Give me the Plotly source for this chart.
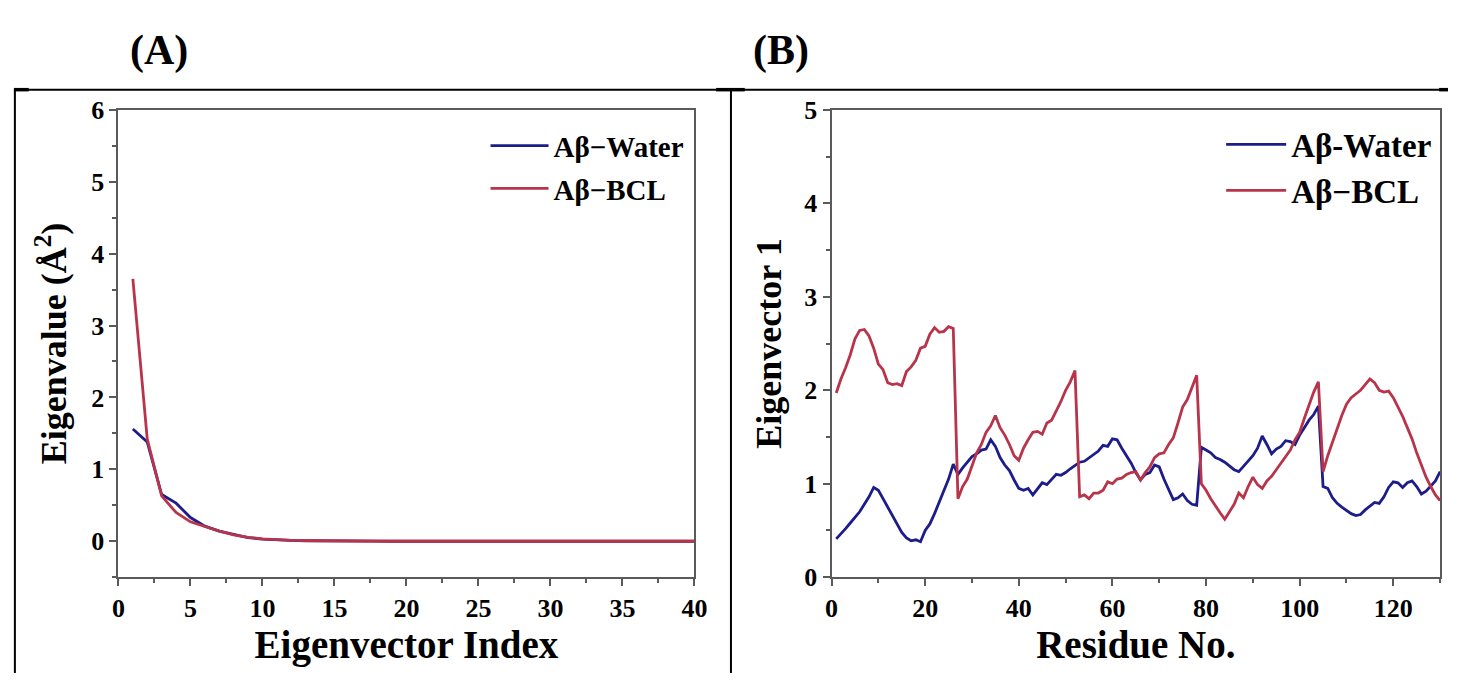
import plotly.graph_objects as go

# ---------------- data ----------------
eig_index = list(range(1, 41))
eig_water = [1.56, 1.38, 0.65, 0.53, 0.33, 0.21, 0.14, 0.09, 0.05, 0.03,
             0.018, 0.011, 0.007, 0.004, 0.003, 0.002, 0.001, 0.001, 0.0, 0.0,
             0.0, 0.0, 0.0, 0.0, 0.0, 0.0, 0.0, 0.0, 0.0, 0.0,
             0.0, 0.0, 0.0, 0.0, 0.0, 0.0, 0.0, 0.0, 0.0, 0.0]
eig_bcl = [3.65, 1.42, 0.63, 0.40, 0.27, 0.20, 0.14, 0.09, 0.055, 0.032,
           0.02, 0.012, 0.008, 0.005, 0.003, 0.002, 0.001, 0.001, 0.0, 0.0,
           0.0, 0.0, 0.0, 0.0, 0.0, 0.0, 0.0, 0.0, 0.0, 0.0,
           0.0, 0.0, 0.0, 0.0, 0.0, 0.0, 0.0, 0.0, 0.0, 0.0]

residue = list(range(1, 131))
ev1_water = [0.41, 0.46, 0.52, 0.58, 0.64, 0.70, 0.78, 0.86, 0.96, 0.93,
             0.84, 0.75, 0.65, 0.56, 0.48, 0.42, 0.39, 0.40, 0.38, 0.50,
             0.57, 0.68, 0.80, 0.93, 1.05, 1.21, 1.10, 1.17, 1.23, 1.29,
             1.32, 1.36, 1.37, 1.47, 1.40, 1.28, 1.20, 1.14, 1.04, 0.95,
             0.93, 0.95, 0.88, 0.95, 1.01, 0.99, 1.05, 1.10, 1.09, 1.12,
             1.16, 1.20, 1.23, 1.24, 1.28, 1.32, 1.35, 1.41, 1.40, 1.48,
             1.47, 1.38, 1.30, 1.22, 1.12, 1.04, 1.10, 1.12, 1.20, 1.18,
             1.05, 0.94, 0.83, 0.85, 0.89, 0.82, 0.78, 0.77, 1.39, 1.36,
             1.33, 1.28, 1.26, 1.23, 1.19, 1.15, 1.13, 1.19, 1.25, 1.30,
             1.38, 1.51, 1.42, 1.32, 1.37, 1.40, 1.46, 1.45, 1.42, 1.52,
             1.60, 1.68, 1.74, 1.83, 0.97, 0.95, 0.85, 0.79, 0.75, 0.71,
             0.68, 0.66, 0.67, 0.72, 0.76, 0.80, 0.79, 0.86, 0.96, 1.02,
             1.01, 0.96, 1.01, 1.03, 0.97, 0.89, 0.92, 0.98, 1.03, 1.13]
ev1_bcl = [1.97, 2.12, 2.24, 2.38, 2.55, 2.64, 2.65, 2.58, 2.45, 2.28,
           2.22, 2.08, 2.06, 2.07, 2.05, 2.20, 2.25, 2.32, 2.45, 2.47,
           2.60, 2.67, 2.62, 2.63, 2.68, 2.66, 0.84, 0.97, 1.05, 1.18,
           1.33, 1.42, 1.55, 1.62, 1.73, 1.60, 1.52, 1.42, 1.30, 1.25,
           1.38, 1.47, 1.55, 1.56, 1.53, 1.65, 1.68, 1.78, 1.88, 2.00,
           2.09, 2.21, 0.86, 0.88, 0.84, 0.90, 0.90, 0.93, 1.02, 1.00,
           1.05, 1.06, 1.10, 1.12, 1.13, 1.04, 1.12, 1.18, 1.28, 1.32,
           1.33, 1.42, 1.49, 1.65, 1.82, 1.90, 2.02, 2.16, 1.00, 0.93,
           0.84, 0.76, 0.69, 0.62, 0.70, 0.78, 0.90, 0.85, 0.97, 1.07,
           0.99, 0.95, 1.03, 1.08, 1.15, 1.22, 1.30, 1.36, 1.47, 1.55,
           1.70, 1.85, 1.98, 2.09, 1.13, 1.30, 1.45, 1.60, 1.73, 1.85,
           1.92, 1.96, 2.00, 2.06, 2.12, 2.08, 2.00, 1.98, 1.99, 1.92,
           1.82, 1.72, 1.60, 1.48, 1.33, 1.20, 1.07, 0.97, 0.88, 0.82]

names_a = ["A\u03b2\u2212Water", "A\u03b2\u2212BCL"]
names_b = ["A\u03b2-Water", "A\u03b2\u2212BCL"]
panel_labels = ["(A)", "(B)"]

# ---------------- style ----------------
W, H = 1461, 688
BLUE = "#1c1c8a"
RED = "#b8344a"
FONT = "Liberation Serif"
AXC = "#5a5a5a"


def px_x(p):
    return p / W


def px_y(p):
    return 1 - p / H


fig = go.Figure()
fig.add_trace(go.Scatter(x=eig_index, y=eig_water, mode="lines", name=names_a[0], legendgroup="a1",
                         line=dict(color=BLUE, width=2.8), xaxis="x", yaxis="y", legend="legend"))
fig.add_trace(go.Scatter(x=eig_index, y=eig_bcl, mode="lines", name=names_a[1], legendgroup="a2",
                         line=dict(color=RED, width=2.8), xaxis="x", yaxis="y", legend="legend"))
fig.add_trace(go.Scatter(x=residue, y=ev1_water, mode="lines", name=names_b[0], legendgroup="b1",
                         line=dict(color=BLUE, width=2.8), xaxis="x2", yaxis="y2", legend="legend2"))
fig.add_trace(go.Scatter(x=residue, y=ev1_bcl, mode="lines", name=names_b[1], legendgroup="b2",
                         line=dict(color=RED, width=2.8), xaxis="x2", yaxis="y2", legend="legend2"))

tickfont = dict(family=FONT, size=26, color="black", weight="bold")
xtitlefont = dict(family=FONT, size=39, color="black", weight="bold")
ytitlefont = dict(family=FONT, size=36, color="black", weight="bold")


def axis_common():
    return dict(showline=True, mirror=True, linecolor=AXC, linewidth=2,
                ticks="outside", ticklen=7, tickwidth=1.5, tickcolor=AXC,
                showgrid=False, zeroline=False, tickfont=tickfont)


ydom = [px_y(588), px_y(100)]

fig.update_layout(
    width=W, height=H, margin=dict(l=0, r=0, t=0, b=0),
    paper_bgcolor="white", plot_bgcolor="white",
    xaxis=dict(domain=[px_x(113), px_x(697)], range=[0, 40], dtick=5, anchor="y",
               title=dict(text="Eigenvector Index", font=xtitlefont, standoff=8),
               minor=dict(dtick=2.5, ticklen=4, tickcolor=AXC, ticks="outside"),
               **axis_common()),
    yaxis=dict(domain=ydom, range=[-0.5, 6], dtick=1, anchor="x",
               title=dict(text="Eigenvalue (\u00c5<sup>2</sup>)", font=ytitlefont, standoff=14),
               minor=dict(dtick=0.5, ticklen=4, tickcolor=AXC, ticks="outside"),
               **axis_common()),
    xaxis2=dict(domain=[px_x(836), px_x(1453)], range=[0, 130], dtick=20, anchor="y2",
                title=dict(text="Residue No.", font=xtitlefont, standoff=8),
                minor=dict(dtick=10, ticklen=4, tickcolor=AXC, ticks="outside"),
                **axis_common()),
    yaxis2=dict(domain=ydom, range=[0, 5], dtick=1, anchor="x2",
                title=dict(text="Eigenvector 1", font=ytitlefont, standoff=12),
                minor=dict(dtick=0.5, ticklen=4, tickcolor=AXC, ticks="outside"),
                **axis_common()),
    legend=dict(x=px_x(692), y=px_y(111), xanchor="right", yanchor="top",
                bgcolor="rgba(0,0,0,0)", tracegroupgap=2, itemwidth=58,
                font=dict(family=FONT, size=29, color="black", weight="bold")),
    legend2=dict(x=px_x(1450), y=px_y(107), xanchor="right", yanchor="top",
                 bgcolor="rgba(0,0,0,0)", tracegroupgap=0, itemwidth=60,
                 font=dict(family=FONT, size=33, color="black", weight="bold")),
    showlegend=True,
)

fig.add_annotation(text=panel_labels[0], x=px_x(154), y=px_y(38), xref="paper", yref="paper",
                   xanchor="center", yanchor="middle", showarrow=False,
                   font=dict(family=FONT, size=42, color="black", weight="bold"))
fig.add_annotation(text=panel_labels[1], x=px_x(785), y=px_y(38), xref="paper", yref="paper",
                   xanchor="center", yanchor="middle", showarrow=False,
                   font=dict(family=FONT, size=42, color="black", weight="bold"))

# table frame around the two panels
frame = dict(type="line", xref="paper", yref="paper", line=dict(color="black", width=2))
fig.add_shape(x0=px_x(8), x1=1, y0=px_y(79), y1=px_y(79), **frame)
fig.add_shape(x0=px_x(8), x1=px_x(8), y0=px_y(79), y1=0, **frame)
fig.add_shape(x0=px_x(734), x1=px_x(734), y0=px_y(79), y1=0, **frame)
thick = dict(type="line", xref="paper", yref="paper", line=dict(color="black", width=3.5))
for a, b in [(7, 22), (719, 748), (1452, 1461)]:
    fig.add_shape(x0=px_x(a), x1=px_x(b), y0=px_y(79), y1=px_y(79), **thick)

fig.write_html("out.html")
